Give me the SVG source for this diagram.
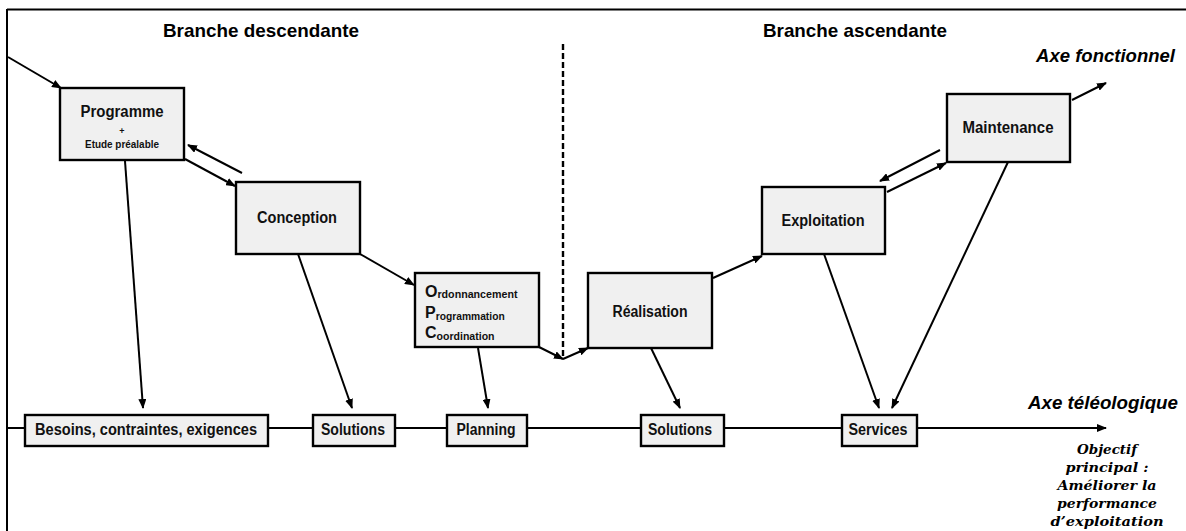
<svg xmlns="http://www.w3.org/2000/svg" width="1186" height="531" viewBox="0 0 1186 531">
<style>
.box{fill:#f0f0f0;stroke:#000;stroke-width:2.4}
.ln{stroke:#000;stroke-width:2;fill:none}
.arr{stroke:#000;stroke-width:2;fill:none;marker-end:url(#ah)}
.t{font-family:"Liberation Sans",Arial,sans-serif;font-weight:bold;fill:#111;text-anchor:middle}
.h{font-family:"Liberation Sans",Arial,sans-serif;font-weight:bold;fill:#000;font-size:19px}
.ax{font-family:"Liberation Sans",Arial,sans-serif;font-weight:bold;font-style:italic;fill:#000;font-size:19px}
.obj{font-family:"DejaVu Serif","Liberation Serif",serif;font-weight:bold;font-style:italic;fill:#000;font-size:13.5px;text-anchor:middle}
</style>
<defs>
<marker id="ah" markerUnits="userSpaceOnUse" markerWidth="10" markerHeight="8" refX="9" refY="4" orient="auto">
<path d="M0,0 L10,4 L0,8 z" fill="#000"/>
</marker>
</defs>
<rect width="1186" height="531" fill="#fff"/>
<g id="frame">
<line x1="7" y1="9.5" x2="1186" y2="9.5" stroke="#000" stroke-width="2"/>
<line x1="7" y1="9" x2="7" y2="531" stroke="#000" stroke-width="2"/>
</g>
<g id="titles">
<text class="h" x="163" y="37" textLength="196" lengthAdjust="spacingAndGlyphs">Branche descendante</text>
<text class="h" x="763" y="37" textLength="184" lengthAdjust="spacingAndGlyphs">Branche ascendante</text>
<text class="ax" x="1036" y="62" textLength="139" lengthAdjust="spacingAndGlyphs">Axe fonctionnel</text>
<text class="ax" x="1028" y="409" textLength="150" lengthAdjust="spacingAndGlyphs">Axe téléologique</text>
</g>
<g id="divider">
<line x1="563" y1="44" x2="563" y2="358" stroke="#000" stroke-width="2.4" stroke-dasharray="6,3"/>
</g>
<g id="connectors">
<line class="ln" x1="7" y1="428" x2="25" y2="428"/>
<line class="ln" x1="268" y1="428" x2="313" y2="428"/>
<line class="ln" x1="395" y1="428" x2="447" y2="428"/>
<line class="ln" x1="527" y1="428" x2="641" y2="428"/>
<line class="ln" x1="724" y1="428" x2="842" y2="428"/>
<line class="arr" x1="917" y1="428" x2="1106" y2="428"/>
<line class="arr" x1="8" y1="57" x2="61" y2="88"/>
<line class="arr" x1="185" y1="159" x2="235" y2="186"/>
<line class="arr" x1="242" y1="173" x2="188" y2="145"/>
<line class="arr" x1="360" y1="254" x2="414" y2="285"/>
<line class="arr" x1="539" y1="347" x2="563" y2="359"/>
<line class="arr" x1="563" y1="359" x2="588" y2="348"/>
<line class="arr" x1="713" y1="278" x2="762" y2="256"/>
<line class="arr" x1="887" y1="192" x2="946" y2="163"/>
<line class="arr" x1="940" y1="150" x2="880" y2="181"/>
<line class="arr" x1="1072" y1="100" x2="1106" y2="83"/>
<line class="arr" x1="125" y1="161" x2="143" y2="408"/>
<line class="arr" x1="298" y1="254" x2="352" y2="408"/>
<line class="arr" x1="478" y1="348" x2="488" y2="408"/>
<line class="arr" x1="651" y1="348" x2="680" y2="408"/>
<line class="arr" x1="824" y1="254" x2="879" y2="408"/>
<line class="arr" x1="1008" y1="162" x2="892" y2="408"/>
</g>
<g id="programme">
<rect class="box" x="60" y="88" width="124" height="72"/>
<text class="t" x="122" y="117" font-size="16" textLength="83" lengthAdjust="spacingAndGlyphs">Programme</text>
<text class="t" x="122" y="134" font-size="9">+</text>
<text class="t" x="122" y="148" font-size="10.5" textLength="74" lengthAdjust="spacingAndGlyphs">Etude préalable</text>
</g>
<g id="conception">
<rect class="box" x="236" y="182" width="124" height="72"/>
<text class="t" x="297" y="223" font-size="16" textLength="80" lengthAdjust="spacingAndGlyphs">Conception</text>
</g>
<g id="opc">
<rect class="box" x="415" y="273" width="124" height="74"/>
<text x="425" y="297" style="font-family:'Liberation Sans',Arial,sans-serif;font-weight:bold;fill:#111"><tspan font-size="16">O</tspan><tspan font-size="10.5" dy="1" textLength="80" lengthAdjust="spacingAndGlyphs">rdonnancement</tspan></text>
<text x="425" y="318" style="font-family:'Liberation Sans',Arial,sans-serif;font-weight:bold;fill:#111"><tspan font-size="16">P</tspan><tspan font-size="10.5" dy="2" textLength="69" lengthAdjust="spacingAndGlyphs">rogrammation</tspan></text>
<text x="425" y="338" style="font-family:'Liberation Sans',Arial,sans-serif;font-weight:bold;fill:#111"><tspan font-size="16">C</tspan><tspan font-size="10.5" dy="2" textLength="58" lengthAdjust="spacingAndGlyphs">oordination</tspan></text>
</g>
<g id="realisation">
<rect class="box" x="588" y="273" width="124" height="75"/>
<text class="t" x="650" y="317" font-size="16" textLength="75" lengthAdjust="spacingAndGlyphs">Réalisation</text>
</g>
<g id="exploitation">
<rect class="box" x="762" y="187" width="123" height="67"/>
<text class="t" x="823" y="226" font-size="16" textLength="83" lengthAdjust="spacingAndGlyphs">Exploitation</text>
</g>
<g id="maintenance">
<rect class="box" x="947" y="94" width="123" height="68"/>
<text class="t" x="1008" y="133" font-size="16" textLength="91" lengthAdjust="spacingAndGlyphs">Maintenance</text>
</g>
<g id="besoins">
<rect class="box" x="25" y="415" width="243" height="31"/>
<text class="t" x="146" y="435" font-size="16" textLength="222" lengthAdjust="spacingAndGlyphs">Besoins, contraintes, exigences</text>
</g>
<g id="solutions1">
<rect class="box" x="313" y="415" width="82" height="31"/>
<text class="t" x="353" y="435" font-size="16" textLength="64" lengthAdjust="spacingAndGlyphs">Solutions</text>
</g>
<g id="planning">
<rect class="box" x="447" y="415" width="80" height="31"/>
<text class="t" x="486" y="435" font-size="16" textLength="59" lengthAdjust="spacingAndGlyphs">Planning</text>
</g>
<g id="solutions2">
<rect class="box" x="641" y="415" width="83" height="31"/>
<text class="t" x="680" y="435" font-size="16" textLength="64" lengthAdjust="spacingAndGlyphs">Solutions</text>
</g>
<g id="services">
<rect class="box" x="842" y="415" width="75" height="31"/>
<text class="t" x="878" y="435" font-size="16" textLength="59" lengthAdjust="spacingAndGlyphs">Services</text>
</g>
<g id="objectif">
<text class="obj" x="1107" y="454" textLength="60" lengthAdjust="spacingAndGlyphs">Objectif</text>
<text class="obj" x="1107" y="472" textLength="83" lengthAdjust="spacingAndGlyphs">principal :</text>
<text class="obj" x="1107" y="490" textLength="99" lengthAdjust="spacingAndGlyphs">Améliorer la</text>
<text class="obj" x="1107" y="508" textLength="100" lengthAdjust="spacingAndGlyphs">performance</text>
<text class="obj" x="1107" y="526" textLength="113" lengthAdjust="spacingAndGlyphs">d’exploitation</text>
</g>
</svg>
